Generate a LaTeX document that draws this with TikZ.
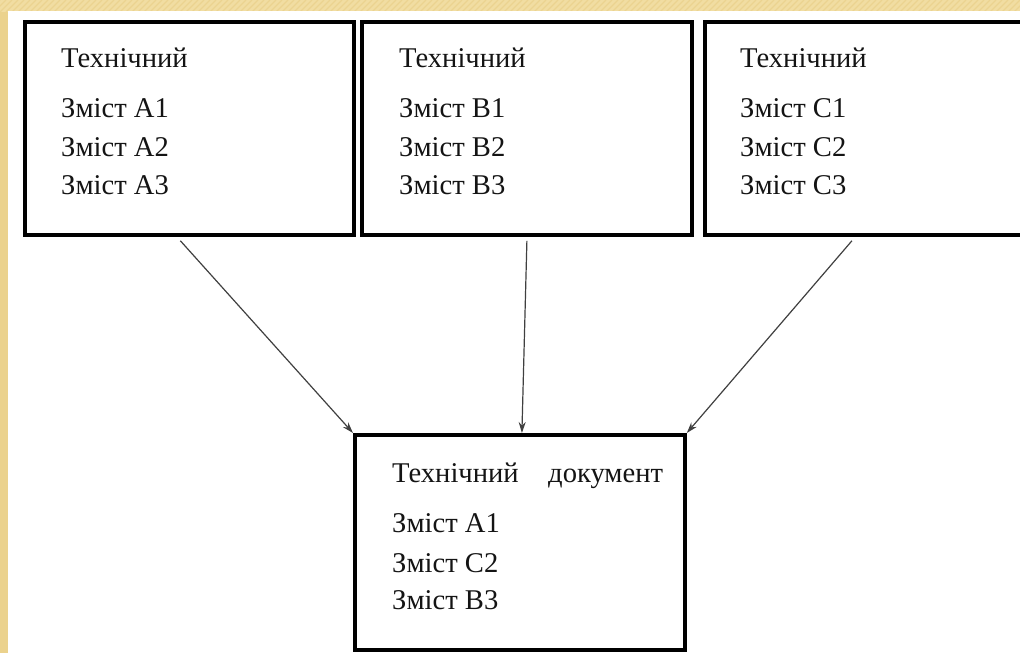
\documentclass[tikz,border=0pt]{standalone}
\usepackage{fontspec}
\setmainfont{Liberation Serif}
\usetikzlibrary{arrows.meta,calc}
\definecolor{paper}{HTML}{F1DDA2}
\definecolor{paperdark}{HTML}{E8CD84}
\tikzset{
  blk/.style={draw=black, line width=3.8pt, fill=white, inner sep=0pt, anchor=north west},
  txt/.style={anchor=base west, inner sep=0pt, font=\fontsize{28.6}{32}\selectfont, text=black!92},
  link/.style={draw=black!75, line width=1.2pt, -{Stealth[length=11pt,width=7pt]}}
}
\begin{document}
\begin{tikzpicture}[x=1pt,y=-1pt]
  \useasboundingbox (0,0) rectangle (1020,653);
  \clip (0,0) rectangle (1020,653);
  % page background with textured gold edge
  \fill[paper] (0,0) rectangle (1020,653);
  \foreach \k in {0,6,...,1060} {
    \draw[paperdark, line width=1.2pt, opacity=0.6] (\k,0) -- (\k-12,12);
  }
  \fill[paperdark!70!paper] (0,12) rectangle (8,653);
  \fill[white] (8,11) rectangle (1020,653);

  % source blocks
  \node[blk, minimum width=329pt, minimum height=213pt] (A) at (23,20) {};
  \node[blk, minimum width=330pt, minimum height=213pt] (B) at (360,20) {};
  \node[blk, minimum width=340pt, minimum height=213pt] (C) at (703,20) {};
  % resulting document
  \node[blk, minimum width=330pt, minimum height=215pt] (D) at (353,433) {};

  % block texts
  \node[txt] (a0) at (61,67) {Технічний};
  \node[txt] (a1) at (61,117) {Зміст A1};
  \node[txt] (a2) at (61,156) {Зміст A2};
  \node[txt] (a3) at (61,194) {Зміст A3};

  \node[txt] (b0) at (399,67) {Технічний};
  \node[txt] (b1) at (399,117) {Зміст B1};
  \node[txt] (b2) at (399,156) {Зміст B2};
  \node[txt] (b3) at (399,194) {Зміст B3};

  \node[txt] (c0) at (740,67) {Технічний};
  \node[txt] (c1) at (740,117) {Зміст C1};
  \node[txt] (c2) at (740,156) {Зміст C2};
  \node[txt] (c3) at (740,194) {Зміст C3};

  \node[txt] (d0) at (392,482) {Технічний};
  \node[txt] (d0b) at (548,482) {документ};
  \node[txt] (d1) at (392,532) {Зміст A1};
  \node[txt] (d2) at (392,572) {Зміст C2};
  \node[txt] (d3) at (392,609) {Зміст B3};

  % connectors
  \draw[link] ([xshift=-9pt,yshift=-4pt]A.south) -- (D.north west);
  \draw[link] ([xshift=0pt,yshift=-4pt]B.south) -- ([xshift=2pt]D.north);
  \draw[link] ([xshift=-23pt,yshift=-4pt]C.south) -- (D.north east);
\end{tikzpicture}
\end{document}
